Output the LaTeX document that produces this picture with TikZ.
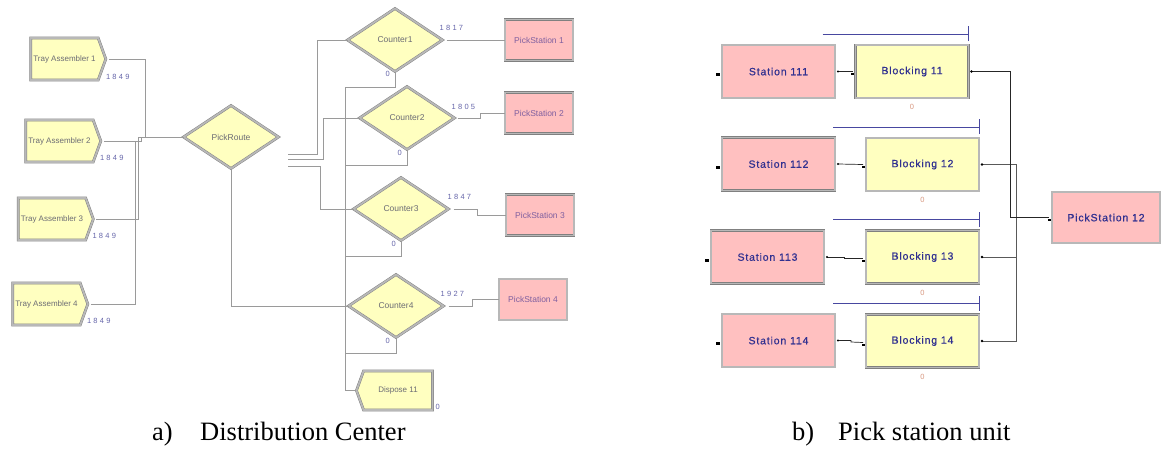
\documentclass[tikz,border=0pt]{standalone}
\usepackage{fontspec}
\setmainfont{Liberation Serif}
\newfontfamily\arial{Liberation Sans}
\newfontfamily\arialsp[LetterSpace=8,FakeBold=0.6]{Liberation Sans}
\newfontfamily\numsp[LetterSpace=30]{Liberation Sans}
\usetikzlibrary{shapes.geometric,shapes.symbols}
\definecolor{ylw}{HTML}{FFFFC0}
\definecolor{pnk}{HTML}{FFC0C0}
\definecolor{lbl}{HTML}{6C6C74}
\definecolor{plbl}{HTML}{8060A0}
\definecolor{numc}{HTML}{6666AA}
\definecolor{navyt}{HTML}{303090}
\definecolor{qline}{HTML}{4848A0}
\definecolor{zeroc}{HTML}{D89880}
\definecolor{connc}{HTML}{9A9A9A}
\begin{document}
\begin{tikzpicture}[x=1pt,y=-1pt,
  bev/.style={draw=black!50, double=black!28, double distance=1.8pt, line width=0.45pt},
  lbla/.style={font=\arial\fontsize{8}{9}\selectfont, text=lbl},
  ta/.style={signal, signal to=east, signal pointer angle=140, minimum width=75pt, minimum height=42pt, inner sep=0pt, outer sep=0pt, fill=ylw, bev, lbla},
  dispo/.style={signal, signal to=west, signal pointer angle=140, minimum width=76pt, minimum height=39pt, inner sep=0pt, outer sep=0pt, fill=ylw, bev, lbla},
  dec/.style={diamond, minimum width=95pt, minimum height=63pt, inner sep=0pt, outer sep=0pt, fill=ylw, bev, font=\arial\fontsize{8.5}{9}\selectfont, text=lbl},
  psa/.style={rectangle, minimum width=68pt, minimum height=41pt, inner sep=0pt, outer sep=0pt, fill=pnk, bev, font=\arial\fontsize{8.5}{9}\selectfont, text=plbl},
  cnt/.style={font=\numsp\fontsize{7.5}{8}\selectfont, text=numc, inner sep=0pt},
  cn/.style={draw=connc, line width=0.7pt},
  boxb/.style={rectangle, minimum width=113pt, minimum height=53pt, inner sep=0pt, outer sep=0pt, bev, font=\arialsp\fontsize{10.5}{12}\selectfont, text=navyt},
  stb/.style={boxb, fill=pnk},
  blb/.style={boxb, fill=ylw},
  zb/.style={font=\arial\fontsize{7.5}{8}\selectfont, text=zeroc, inner sep=0pt},
  bk/.style={draw=black!85, line width=0.7pt},
  bkg/.style={draw=black!65, line width=0.8pt},
  qln/.style={color=qline, line width=0.8pt},
  captxt/.style={font=\fontsize{26.5}{30}\selectfont, anchor=base west, inner sep=0pt}
]
\fill[white] (0,0) rectangle (1162,450);
\useasboundingbox (0,0) rectangle (1162,450);

% ---------- panel a ----------
\node[ta] (ta1) at (64.5,59) {Tray Assembler 1};
\node[ta] (ta2) at (59.5,141) {Tray Assembler 2};
\node[ta] (ta3) at (52,219) {Tray Assembler 3};
\node[ta] (ta4) at (46.5,304) {Tray Assembler 4};
\node[cnt, anchor=west] (n1) at ([xshift=0pt,yshift=-18pt]ta1.east) {1849};
\node[cnt, anchor=west] (n2) at ([xshift=-1pt,yshift=-17pt]ta2.east) {1849};
\node[cnt, anchor=west] (n3) at ([xshift=-1pt,yshift=-17pt]ta3.east) {1849};
\node[cnt, anchor=west] (n4) at ([xshift=-1pt,yshift=-17pt]ta4.east) {1849};

\node[dec] (pr) at (231,137) {PickRoute};

\node[dec] (c1) at (395,40) {Counter1};
\node[dec] (c2) at (407,118) {Counter2};
\node[dec] (c3) at (401,209) {Counter3};
\node[dec] (c4) at (396,306) {Counter4};

\node[psa] (ps1) at (539,40) {PickStation 1};
\node[psa] (ps2) at (539,113) {PickStation 2};
\node[psa] (ps3) at (540,215) {PickStation 3};
\node[psa] (ps4) at (533,299.5) {PickStation 4};

\node[dispo] (d11) at (398,390.5) {Dispose 11};

\node[cnt, anchor=west] (k1) at ([xshift=-3pt,yshift=12pt]c1.east) {1817};
\node[cnt, anchor=west] (k2) at ([xshift=-3pt,yshift=11pt]c2.east) {1805};
\node[cnt, anchor=west] (k3) at ([xshift=-1pt,yshift=12pt]c3.east) {1847};
\node[cnt, anchor=west] (k4) at ([xshift=-3pt,yshift=12pt]c4.east) {1927};
\node[cnt, anchor=east] (z1) at ([xshift=-5pt,yshift=-2pt]c1.south) {0};
\node[cnt, anchor=east] (z2) at ([xshift=-5pt,yshift=-3pt]c2.south) {0};
\node[cnt, anchor=east] (z3) at ([xshift=-5pt,yshift=-3pt]c3.south) {0};
\node[cnt, anchor=east] (z4) at ([xshift=-6pt,yshift=-3pt]c4.south) {0};
\node[cnt, anchor=west] (zd) at ([xshift=3pt,yshift=3pt]d11.south east) {0};

% connectors a
\draw[cn] ([xshift=3pt]ta1.east) -- (145,59) |- (pr.west);
\draw[cn] ([xshift=3pt]ta2.east) -- (141,141) |- (pr.west);
\draw[cn] ([xshift=3pt]ta3.east) -- (138,219) |- (pr.west);
\draw[cn] ([xshift=3pt]ta4.east) -- (135,304) |- (141,141.5) |- (pr.west);

\coordinate (pe1) at (288,154);
\coordinate (pe2) at (288,159.5);
\coordinate (pe3) at (288,166);
\draw[cn] (pe1) -- (317,154) |- (c1.west);
\draw[cn] (pe2) -- (323,159.5) |- (c2.west);
\draw[cn] (pe3) -- (320,166) |- (c3.west);
\draw[cn] (pr.south) |- (c4.west);

\draw[cn] ([xshift=4pt]c1.east) -- (ps1.west);
\draw[cn] ([xshift=3pt]c2.east) -- (480,118) |- (ps2.west);
\draw[cn] ([xshift=5pt]c3.east) -- (477,209) |- (ps3.west);
\draw[cn] ([xshift=5pt]c4.east) -- (472,306) |- (ps4.west);

\coordinate (j1) at (345,87);
\coordinate (j2) at (345,165);
\coordinate (j3) at (345,256);
\coordinate (j4) at (345,353);
\draw[cn] (c1.south) |- (j1) |- (d11.west);
\draw[cn] (c2.south) |- (j2);
\draw[cn] (c3.south) |- (j3);
\draw[cn] (c4.south) |- (j4);

% ---------- panel b ----------
\node[stb] (st1) at (778.5,71.5) {Station 111};
\node[blb] (b11) at (912,71.5) {Blocking 11};
\node[stb] (st2) at (778.5,164) {Station 112};
\node[blb] (b12) at (922.5,164.5) {Blocking 12};
\node[stb] (st3) at (767.5,257) {Station 113};
\node[blb] (b13) at (922.5,257) {Blocking 13};
\node[stb] (st4) at (778.5,340.5) {Station 114};
\node[blb] (b14) at (922.5,341) {Blocking 14};
\node[boxb, fill=pnk, minimum width=108pt, minimum height=51pt] (ps12) at (1106,217.5) {PickStation 12};

\draw[qln]
  ([xshift=-33pt,yshift=11pt]b11.north west) -- ([yshift=11pt]b11.north east)
  ([yshift=4pt]b11.north east) -- ([yshift=19pt]b11.north east)
  ([xshift=-33pt,yshift=11pt]b12.north west) -- ([yshift=11pt]b12.north east)
  ([yshift=4pt]b12.north east) -- ([yshift=19pt]b12.north east)
  ([xshift=-33pt,yshift=11pt]b13.north west) -- ([yshift=11pt]b13.north east)
  ([yshift=4pt]b13.north east) -- ([yshift=19pt]b13.north east)
  ([xshift=-33pt,yshift=11pt]b14.north west) -- ([yshift=11pt]b14.north east)
  ([yshift=4pt]b14.north east) -- ([yshift=19pt]b14.north east);

\node[zb] (zb11) at ([yshift=-9pt]b11.south) {0};
\node[zb] (zb12) at ([yshift=-9pt]b12.south) {0};
\node[zb] (zb13) at ([yshift=-9pt]b13.south) {0};
\node[zb] (zb14) at ([yshift=-9pt]b14.south) {0};

\fill[black] ([xshift=-6pt,yshift=-1.5pt]st1.west) rectangle ++(3.5,3);
\fill[black] ([xshift=-6pt,yshift=-1.5pt]st2.west) rectangle ++(3.5,3);
\fill[black] ([xshift=-6pt,yshift=-1.5pt]st3.west) rectangle ++(3.5,3);
\fill[black] ([xshift=-6pt,yshift=-1.5pt]st4.west) rectangle ++(3.5,3);

\draw[bk] ([xshift=3pt]st1.east) -- ([xshift=-3pt]b11.west);
\draw[bk] ([xshift=3pt]st2.east) -- ([xshift=-3pt]b12.west);
\draw[bk] ([xshift=3pt]st3.east) -- ++(17,0) -- ++(0,1.5) -- ([xshift=-3pt,yshift=-1.5pt]b13.west);
\draw[bk] ([xshift=3pt]st4.east) -- ++(13,0) -- ++(0,1.5) -- ([xshift=-3pt,yshift=-1.5pt]b14.west);
\fill[black] ([xshift=3pt]st1.east) circle (1.2pt);
\fill[black] ([xshift=3pt]st2.east) circle (1.2pt);
\fill[black] ([xshift=3pt]st3.east) circle (1.2pt);
\fill[black] ([xshift=3pt]st4.east) circle (1.2pt);
\fill[black] ([xshift=-4.5pt,yshift=-1.3pt]b11.west) rectangle ++(3,2.6);
\fill[black] ([xshift=-4.5pt,yshift=-1.3pt]b12.west) rectangle ++(3,2.6);
\fill[black] ([xshift=-4.5pt,yshift=-2.8pt]b13.west) rectangle ++(3,2.6);
\fill[black] ([xshift=-4.5pt,yshift=-2.8pt]b14.west) rectangle ++(3,2.6);

\coordinate (jb) at (1016,217.5);
\draw[bkg] ([xshift=3pt]b12.east) -| (jb) -- ([xshift=-3pt]ps12.west);
\draw[bkg] ([xshift=3pt]b13.east) -| (jb);
\draw[bkg] ([xshift=3pt]b14.east) -| (jb);
\draw[bk] ([xshift=3pt]b11.east) -- (1010,71.5) |- ([xshift=-3pt]ps12.west);
\fill[black] ([xshift=3pt]b11.east) circle (1.3pt);
\fill[black] ([xshift=3pt]b12.east) circle (1.3pt);
\fill[black] ([xshift=3pt]b13.east) circle (1.3pt);
\fill[black] ([xshift=3pt]b14.east) circle (1.3pt);
\fill[black] ([xshift=-4.5pt,yshift=-1.3pt]ps12.west) rectangle ++(3,2.6);

% captions
\node[captxt] (capa) at (152,440) {a)};
\node[captxt] (capat) at (200,440) {Distribution Center};
\node[captxt] (capb) at (792,440) {b)};
\node[captxt] (capbt) at (838,440) {Pick station unit};
\end{tikzpicture}
\end{document}
